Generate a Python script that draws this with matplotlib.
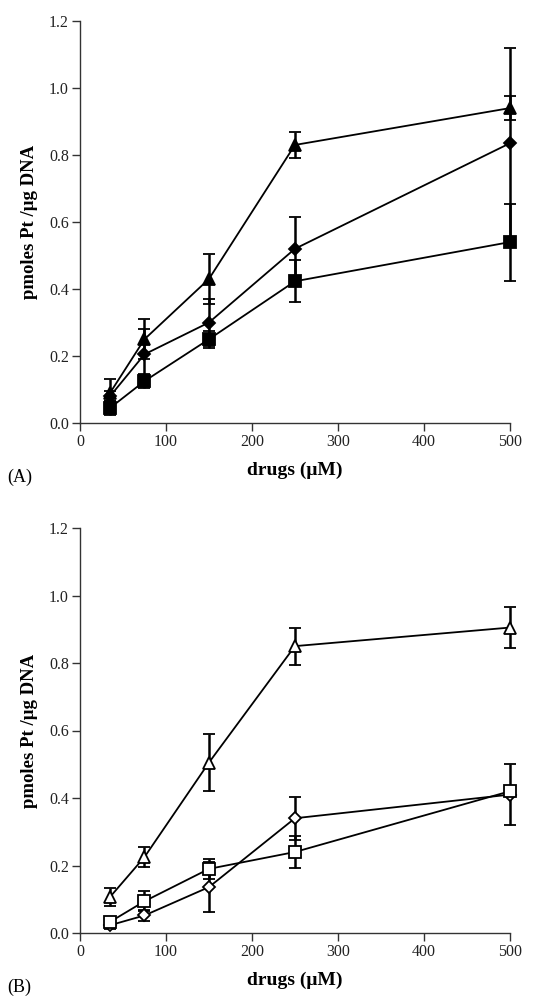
import matplotlib.pyplot as plt

plt.rcParams['font.family'] = ['Liberation Serif', 'DejaVu Serif']

# drug concentrations (uM)
conc = [35, 75, 150, 250, 500]

# panel A (filled markers)
a_tri = [0.09, 0.25, 0.43, 0.83, 0.94]
a_tri_err = [0.04, 0.06, 0.075, 0.038, 0.035]
a_dia = [0.08, 0.205, 0.30, 0.52, 0.835]
a_dia_err = [0.015, 0.075, 0.07, 0.095, 0.285]
a_sq = [0.045, 0.125, 0.25, 0.423, 0.54]
a_sq_err = [0.02, 0.02, 0.025, 0.063, 0.115]

# panel B (open markers)
b_tri = [0.107, 0.225, 0.505, 0.85, 0.905]
b_tri_err = [0.027, 0.03, 0.085, 0.055, 0.06]
b_dia = [0.023, 0.052, 0.136, 0.34, 0.41]
b_dia_err = [0.01, 0.015, 0.075, 0.063, 0.09]
b_sq = [0.033, 0.094, 0.19, 0.24, 0.42]
b_sq_err = [0.01, 0.03, 0.03, 0.047, 0.01]

yticks = [0.0, 0.2, 0.4, 0.6, 0.8, 1.0, 1.2]
xticks = [0, 100, 200, 300, 400, 500]

fig = plt.figure(figsize=(5.34, 10.0), dpi=100)
axA = fig.add_axes([0.1498, 0.577, 0.805, 0.402])
axB = fig.add_axes([0.1498, 0.067, 0.805, 0.405])


def draw_series(ax, y, err, marker, ms, filled):
    fc = 'black' if filled else 'white'
    lines = ax.errorbar(conc, y, yerr=err, color='black', lw=1.3, elinewidth=1.8,
                        capsize=4.5, capthick=1.8, marker=marker, ms=ms,
                        mfc=fc, mec='black', mew=1.3, zorder=3)
    lines[0].set_clip_on(False)
    for part in lines[1]:
        part.set_clip_on(False)
    for part in lines[2]:
        part.set_clip_on(False)


def style_axes(ax, tag):
    ax.set_xlim(0, 500)
    ax.set_ylim(0, 1.2)
    ax.set_xticks(xticks)
    ax.set_yticks(yticks)
    ax.set_yticklabels([f'{v:.1f}' for v in yticks])
    for s in ['top', 'right']:
        ax.spines[s].set_visible(False)
    for s in ['left', 'bottom']:
        ax.spines[s].set_linewidth(1.0)
        ax.spines[s].set_color('#333333')
    ax.tick_params(direction='out', length=6, width=1.0, color='#333333',
                   labelsize=11.5, labelcolor='#222222', pad=2)
    ax.set_xlabel('drugs (\u03bcM)', fontsize=14, fontweight='bold', labelpad=8)
    ax.set_ylabel('pmoles Pt /\u03bcg DNA', fontsize=13.5, fontweight='bold', labelpad=8)
    ax.text(-0.17, -0.135, tag, transform=ax.transAxes, fontsize=13,
            ha='left', va='center')


draw_series(axA, a_sq, a_sq_err, 's', 8, True)
draw_series(axA, a_dia, a_dia_err, 'D', 6.5, True)
draw_series(axA, a_tri, a_tri_err, '^', 8.5, True)
style_axes(axA, '(A)')

draw_series(axB, b_dia, b_dia_err, 'D', 6.5, False)
draw_series(axB, b_sq, b_sq_err, 's', 8, False)
draw_series(axB, b_tri, b_tri_err, '^', 8.5, False)
style_axes(axB, '(B)')

fig.savefig('out.png', dpi=100)
